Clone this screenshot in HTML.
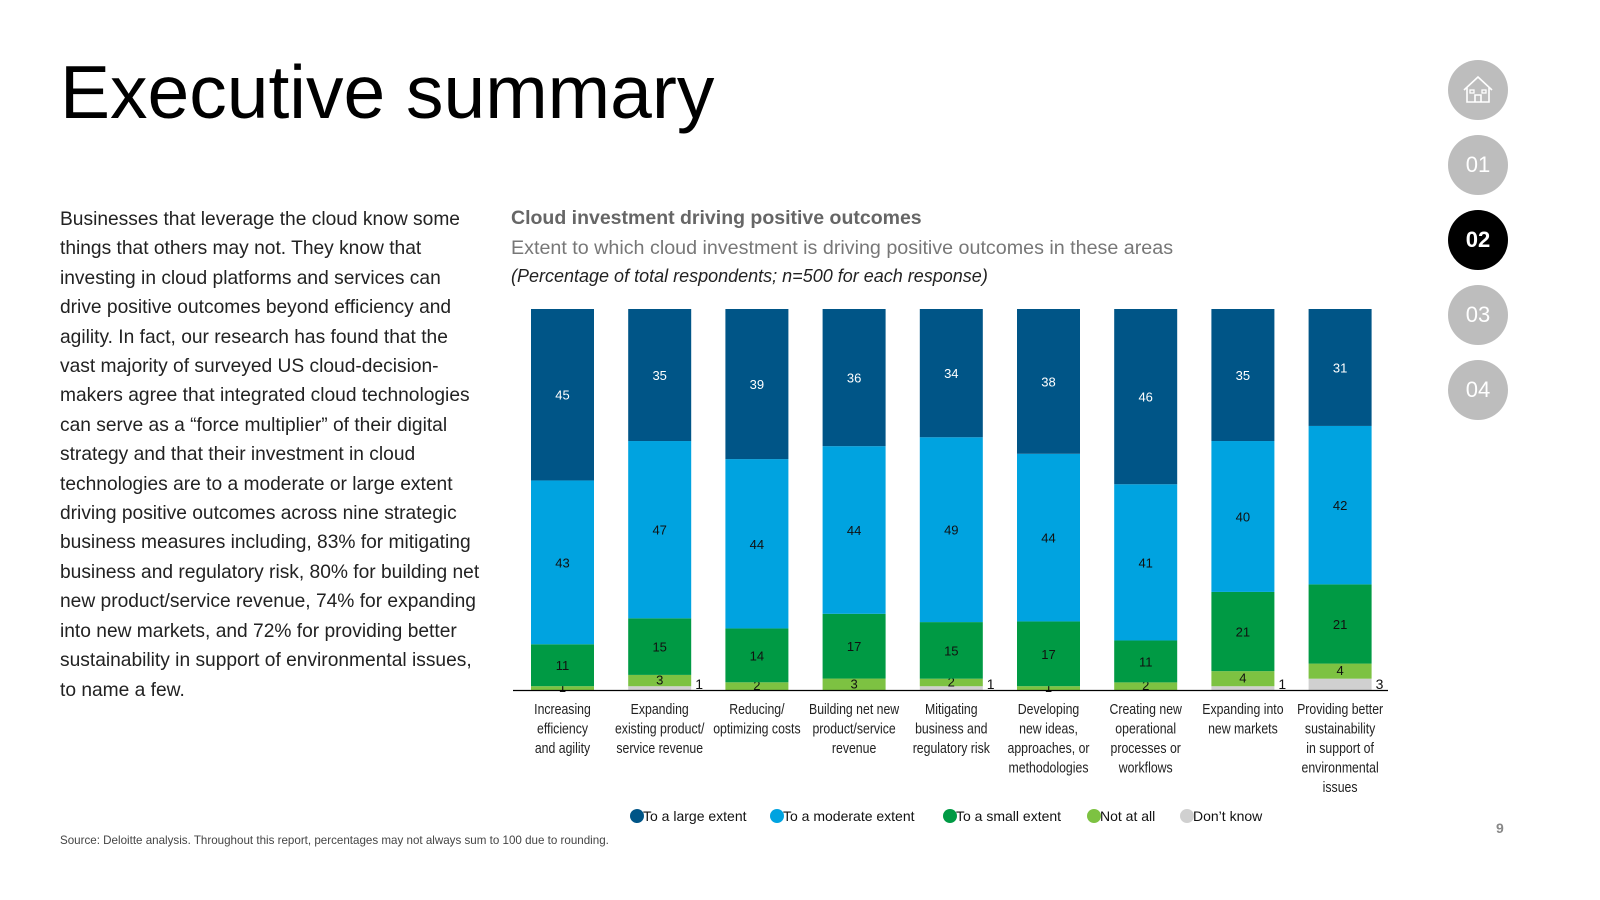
<!DOCTYPE html>
<html><head><meta charset="utf-8"><style>
body{margin:0;width:1600px;height:900px;background:#fff;font-family:"Liberation Sans",sans-serif;position:relative;overflow:hidden}
.abs{position:absolute}
h1{position:absolute;left:60px;top:49px;margin:0;font-weight:300;font-size:75px;color:#000;letter-spacing:0px}
#body-text{left:60px;top:205px;width:425px;font-size:19.2px;line-height:29.4px;color:#222}
.nav{position:absolute;left:1448px;width:60px;height:60px;border-radius:50%;background:#bdbdbd;color:#fff;font-size:22px;text-align:center;line-height:60px}
</style></head><body>
<h1>Executive summary</h1>
<div id="body-text" class="abs">Businesses that leverage the cloud know some things that others may not. They know that investing in cloud platforms and services can drive positive outcomes beyond efficiency and agility. In fact, our research has found that the vast majority of surveyed US cloud-decision-makers agree that integrated cloud technologies can serve as a “force multiplier” of their digital strategy and that their investment in cloud technologies are to a moderate or large extent driving positive outcomes across nine strategic business measures including, 83% for mitigating business and regulatory risk, 80% for building net new product/service revenue, 74% for expanding into new markets, and 72% for providing better sustainability in support of environmental issues, to name a few.</div>
<div class="abs" style="left:511px;top:207px;font-size:19.5px;font-weight:bold;color:#666">Cloud investment driving positive outcomes</div>
<div class="abs" style="left:511px;top:237px;font-size:19.7px;color:#777">Extent to which cloud investment is driving positive outcomes in these areas</div>
<div class="abs" style="left:511px;top:266px;font-size:18px;font-style:italic;color:#222">(Percentage of total respondents; n=500 for each response)</div>
<div class="nav" style="top:60px"><svg width="60" height="60" viewBox="0 0 60 60"><path d="M16 30 L30 17 L44 30 M19 27 V42 H41 V27 M27 42 V35 H33 V42" fill="none" stroke="#fff" stroke-width="1.6"/><rect x="22" y="30" width="4" height="3" fill="none" stroke="#fff" stroke-width="1.3"/><rect x="34" y="30" width="4" height="3" fill="none" stroke="#fff" stroke-width="1.3"/></svg></div>
<div class="nav" style="top:135px">01</div>
<div class="nav" style="top:210px;background:#000;font-weight:bold">02</div>
<div class="nav" style="top:285px">03</div>
<div class="nav" style="top:360px">04</div>
<div class="abs" style="left:1496px;top:820px;font-size:14px;font-weight:bold;color:#888">9</div>
<div class="abs" style="left:60px;top:834px;font-size:11.6px;color:#444">Source: Deloitte analysis. Throughout this report, percentages may not always sum to 100 due to rounding.</div>
<svg id="chart" class="abs" style="left:0;top:0" width="1600" height="900"></svg>
<script>
const categories=[["Increasing","efficiency","and agility"],["Expanding","existing product/","service revenue"],["Reducing/","optimizing costs"],["Building net new","product/service","revenue"],["Mitigating","business and","regulatory risk"],["Developing","new ideas,","approaches, or","methodologies"],["Creating new","operational","processes or","workflows"],["Expanding into","new markets"],["Providing better","sustainability","in support of","environmental","issues"]];
const seriesNames=["To a large extent","To a moderate extent","To a small extent","Not at all","Don’t know"];
const large=[45,35,39,36,34,38,46,35,31];
const moderate=[43,47,44,44,49,44,41,40,42];
const small=[11,15,14,17,15,17,11,21,21];
const notAtAll=[1,3,2,3,2,1,2,4,4];
const dontKnow=[0,1,0,0,1,0,0,1,3];
const colors=["#005587","#00A3E0","#009A44","#7DC242","#D0D0D0"];
const NS="http://www.w3.org/2000/svg";
const svg=document.getElementById('chart');
const base=690,top0=309,x0=531,step=97.2,bw=63;
function mk(t,a){const e=document.createElementNS(NS,t);for(const k in a)e.setAttribute(k,a[k]);svg.appendChild(e);return e;}
const series=[dontKnow,notAtAll,small,moderate,large];
const names=[4,3,2,1,0];
categories.forEach((c,i)=>{
  const tot=series.reduce((s,a)=>s+a[i],0);
  const k=(base-top0)/tot;
  let y=base;
  series.forEach((arr,si)=>{
    const v=arr[i];const h=v*k;
    if(v>0){
      const r=mk('rect',{x:x0+i*step,y:y-h,width:bw,height:h,fill:colors[names[si]]});
      
      
      let tx=x0+i*step+bw/2,ty=y-h/2+5,anchor='middle';
      if(si===0){tx=x0+i*step+bw+4;ty=base-1;anchor='start';}
      if(si===1){ty=y-h/2+4;}
      const t=mk('text',{x:tx,y:ty,'text-anchor':anchor,'font-size':si===0?14:13,fill:si===4?'#fff':'#111','font-family':'Liberation Sans, sans-serif'});
      t.textContent=v;
      
      
    }
    y-=h;
  });
  const tl=mk('text',{'text-anchor':'middle','font-size':15,fill:'#222','font-family':'Liberation Sans Narrow, Liberation Sans, sans-serif',transform:`translate(${x0+i*step+bw/2},714) scale(0.82,1)`});
  
  
  c.forEach((ln,j)=>{const ts=document.createElementNS(NS,'tspan');ts.setAttribute('x',0);ts.setAttribute('y',j*19.5);ts.textContent=ln;tl.appendChild(ts);});
});
const ax=mk('line',{x1:513,x2:1388,y1:690.5,y2:690.5,stroke:'#000','stroke-width':1.2});


const lx=[637,777,950,1094,1187];
seriesNames.forEach((n,i)=>{
  const g=mk('g',{});
  
  
  const c=document.createElementNS(NS,'circle');c.setAttribute('cx',lx[i]);c.setAttribute('cy',816);c.setAttribute('r',7);c.setAttribute('fill',colors[i]);g.appendChild(c);
  const t=document.createElementNS(NS,'text');t.setAttribute('x',lx[i]+6);t.setAttribute('y',821);t.setAttribute('font-size',14);t.setAttribute('fill','#111');t.setAttribute('font-family','Liberation Sans, sans-serif');t.textContent=n;g.appendChild(t);
});
</script>
</body></html>
